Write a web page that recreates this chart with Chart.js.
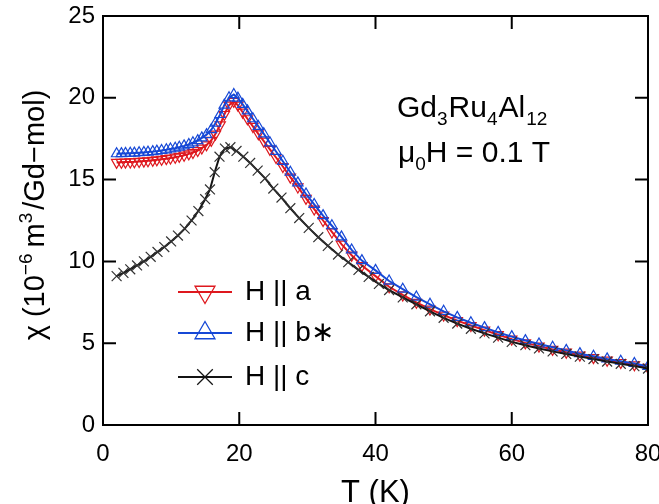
<!DOCTYPE html>
<html>
<head>
<meta charset="utf-8">
<script src="https://cdn.jsdelivr.net/npm/chart.js@4/dist/chart.umd.min.js"></script>
<style>
html,body{margin:0;padding:0;background:#fff;}
#wrap{width:659px;height:504px;position:relative;}
</style>
</head>
<body>
<div id="wrap"><canvas id="c" width="659" height="504"></canvas></div>
<script>
// ---- data ----
const tempsAB = [2.0,2.7,3.3,4.0,4.6,5.3,6.0,6.6,7.3,7.9,8.6,9.3,9.9,10.6,11.2,11.9,12.6,13.2,13.9,14.5,15.2,15.9,16.5,17.2,17.8,18.5,19.2,19.8,20.5,21.2,22.0,22.8,23.6,24.5,25.4,26.4,27.5,28.6,29.8,31.0,32.3,33.6,35.0,36.5,38.0,40,42,44,46,48,50,52,54,56,58,60,62,64,66,68,70,72,74,76,78,80];
const chiA = [16.05,16.06,16.07,16.08,16.09,16.11,16.13,16.15,16.18,16.21,16.24,16.28,16.32,16.37,16.42,16.49,16.57,16.66,16.78,16.93,17.12,17.40,17.78,18.35,18.98,19.55,19.78,19.55,19.12,18.72,18.25,17.80,17.35,16.85,16.35,15.80,15.15,14.55,13.85,13.20,12.50,11.80,11.05,10.38,9.75,9.10,8.45,7.95,7.50,7.08,6.72,6.38,6.08,5.80,5.52,5.25,5.02,4.82,4.62,4.45,4.27,4.12,3.96,3.82,3.68,3.52];
const chiB = [16.58,16.59,16.60,16.61,16.62,16.64,16.66,16.68,16.71,16.74,16.78,16.82,16.87,16.92,16.98,17.06,17.15,17.25,17.38,17.55,17.75,18.05,18.45,18.98,19.55,20.00,20.20,19.98,19.60,19.20,18.72,18.25,17.80,17.25,16.72,16.12,15.45,14.80,14.12,13.48,12.80,12.18,11.50,10.70,10.05,9.45,8.80,8.30,7.82,7.38,6.95,6.58,6.25,5.95,5.66,5.40,5.16,4.95,4.75,4.56,4.36,4.20,4.04,3.90,3.76,3.58];
const tempsC = [2,3,4,5,6,7,8,9,10,11,12,13,14,15,15.7,16.4,17.1,17.9,18.7,19.6,20.6,21.6,22.7,23.8,25,26.2,27.5,28.8,30.2,31.6,33,34.5,36,37.5,39,40.5,42,44,46,48,50,52,54,56,58,60,62,64,66,68,70,72,74,76,78,80];
const chiC = [9.10,9.30,9.52,9.75,10.00,10.28,10.58,10.88,11.22,11.58,12.00,12.50,13.08,13.80,14.40,15.45,16.40,16.90,16.98,16.75,16.40,16.02,15.55,15.08,14.45,13.90,13.25,12.65,12.05,11.48,10.95,10.42,9.95,9.48,9.05,8.62,8.25,7.80,7.38,6.95,6.55,6.20,5.88,5.60,5.34,5.08,4.88,4.68,4.50,4.34,4.18,4.03,3.88,3.74,3.60,3.45];
const xTicks = [0,20,40,60,80];
const yTicks = [0,5,10,15,20,25];
const seriesNames = ['H || a','H || b\u2217','H || c'];
const xTitle = 'T (K)';

const RED = 'rgb(222,24,30)';
const BLUE = 'rgb(22,72,214)';
const BLACK = 'rgb(20,20,20)';
const FONT = "'Liberation Sans', Arial, sans-serif";

function pts(xs, ys){ return xs.map((t,i)=>({x:t,y:ys[i]})); }

const decorPlugin = {
  id:'decor',
  afterDraw(chart){
    const {ctx, chartArea:a, scales:{x, y}} = chart;
    ctx.save();
    // frame
    ctx.strokeStyle = '#000';
    ctx.lineWidth = 2;
    ctx.strokeRect(a.left, a.top, a.right - a.left, a.bottom - a.top);
    const TL = 13;
    ctx.beginPath();
    xTicks.forEach(v=>{
      const px = x.getPixelForValue(v);
      ctx.moveTo(px, a.bottom); ctx.lineTo(px, a.bottom - TL);
      ctx.moveTo(px, a.top); ctx.lineTo(px, a.top + TL);
    });
    yTicks.forEach(v=>{
      const py = y.getPixelForValue(v);
      ctx.moveTo(a.left, py); ctx.lineTo(a.left + TL, py);
      ctx.moveTo(a.right, py); ctx.lineTo(a.right - TL, py);
    });
    ctx.stroke();

    ctx.fillStyle = '#000';
    ctx.textAlign = 'left';
    ctx.textBaseline = 'alphabetic';
    const drawSegs = (segs, x0, y0) => {
      let xx = x0;
      segs.forEach(s=>{
        ctx.font = s.f;
        ctx.fillText(s.t, xx, y0 + (s.dy||0));
        xx += ctx.measureText(s.t).width + (s.gap||0);
      });
    };
    const measureSegs = (segs) => {
      let w = 0;
      segs.forEach(s=>{ ctx.font = s.f; w += ctx.measureText(s.t).width + (s.gap||0); });
      return w;
    };

    // x title
    ctx.font = '31px ' + FONT;
    ctx.textAlign = 'center';
    ctx.fillText(xTitle, (a.left + a.right)/2, 502);
    ctx.textAlign = 'left';

    // y title (rotated)
    const mainF = '29px ' + FONT, supF = '19px ' + FONT;
    const ySegs = [
      {t:'\u03C7 (10', f:mainF},
      {t:'\u22126', f:supF, dy:-12, gap:6},
      {t:'m', f:mainF},
      {t:'3', f:supF, dy:-12, gap:3},
      {t:'/Gd\u2212mol)', f:mainF}
    ];
    ctx.save();
    ctx.translate(44, 215);
    ctx.rotate(-Math.PI/2);
    const yw = measureSegs(ySegs);
    drawSegs(ySegs, -yw/2, 0);
    ctx.restore();

    // annotation
    const aF = '30px ' + FONT, sF = '19px ' + FONT;
    drawSegs([
      {t:'Gd', f:aF}, {t:'3', f:sF, dy:8, gap:1}, {t:'Ru', f:aF}, {t:'4', f:sF, dy:8, gap:1},
      {t:'Al', f:aF, gap:1}, {t:'12', f:sF, dy:8}
    ], 397, 117);
    drawSegs([
      {t:'\u03BC', f:aF}, {t:'0', f:sF, dy:8}, {t:'H = 0.1 T', f:aF}
    ], 398, 162);

    // legend
    const rows = [
      {y:292, c:RED, ps:'triangle', rot:180, r:11.5},
      {y:333, c:BLUE, ps:'triangle', rot:0, r:11.5},
      {y:377, c:BLACK, ps:'crossRot', rot:0, r:11}
    ];
    rows.forEach((rw, i)=>{
      ctx.strokeStyle = rw.c;
      ctx.lineWidth = 2;
      ctx.beginPath();
      ctx.moveTo(178, rw.y); ctx.lineTo(232, rw.y);
      ctx.stroke();
      ctx.lineWidth = 1.3;
      ctx.fillStyle = 'rgba(0,0,0,0)';
      Chart.helpers.drawPoint(ctx, {pointStyle:rw.ps, rotation:rw.rot, radius:rw.r, borderWidth:1.3}, 205, rw.y);
      ctx.fillStyle = '#000';
      ctx.font = '28px ' + FONT;
      ctx.fillText(seriesNames[i], 245, rw.y + 8);
    });
    ctx.restore();
  }
};

const common = {
  showLine:true, tension:0, borderWidth:2, pointBorderWidth:1.2,
  pointBackgroundColor:'rgba(0,0,0,0)', pointHoverRadius:0
};

function noPad(s){ s.paddingLeft = 0; s.paddingRight = 0; s.paddingTop = 0; s.paddingBottom = 0; }

new Chart(document.getElementById('c'), {
  type:'scatter',
  data:{
    datasets:[
      Object.assign({label:seriesNames[0], data:pts(tempsAB, chiA), borderColor:RED, pointBorderColor:RED,
        pointStyle:'triangle', rotation:180, pointRadius:6, order:2}, common),
      Object.assign({label:seriesNames[1], data:pts(tempsAB, chiB), borderColor:BLUE, pointBorderColor:BLUE,
        pointStyle:'triangle', rotation:0, pointRadius:6, order:1}, common),
      Object.assign({label:seriesNames[2], data:pts(tempsC, chiC), borderColor:BLACK, pointBorderColor:'rgb(50,50,50)',
        pointStyle:'crossRot', pointRadius:7, order:0}, common)
    ]
  },
  options:{
    responsive:false, animation:false, devicePixelRatio:1,
    layout:{padding:{top:16, right:11, left:0, bottom:0}},
    plugins:{legend:{display:false}, tooltip:{enabled:false}},
    scales:{
      x:{
        type:'linear', min:0, max:80,
        afterBuildTicks:s=>{ s.ticks = xTicks.map(v=>({value:v})); },
        afterFit:s=>{ s.height = 79; noPad(s); },
        grid:{display:false, drawTicks:false},
        border:{display:false},
        ticks:{color:'#000', font:{family:FONT, size:24}, padding:15, maxRotation:0}
      },
      y:{
        type:'linear', min:0, max:25,
        afterBuildTicks:s=>{ s.ticks = yTicks.map(v=>({value:v})); },
        afterFit:s=>{ s.width = 103; noPad(s); },
        grid:{display:false, drawTicks:false},
        border:{display:false},
        ticks:{color:'#000', font:{family:FONT, size:24}, padding:8}
      }
    }
  },
  plugins:[decorPlugin]
});
</script>
</body>
</html>
